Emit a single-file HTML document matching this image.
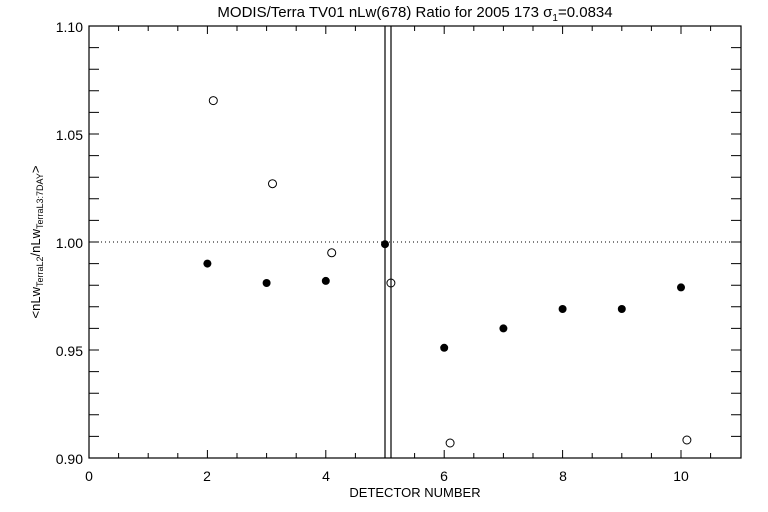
<!DOCTYPE html>
<html><head><style>body{margin:0;background:#fff}svg{display:block}text{font-family:"Liberation Sans",sans-serif;fill:#000}</style></head><body>
<svg width="768" height="512" viewBox="0 0 768 512" xmlns="http://www.w3.org/2000/svg">
<text x="415" y="17" font-size="15" text-anchor="middle">MODIS/Terra TV01 nLw(678) Ratio for 2005 173 σ<tspan font-size="10" dy="4">1</tspan><tspan dy="-4">=0.0834</tspan></text>
<rect x="89" y="26" width="652" height="432" fill="none" stroke="#000" stroke-width="1.2"/>
<path stroke="#000" stroke-width="1" fill="none" d="
M118.6 458v-5M148.2 458v-5M177.8 458v-5M207.4 458v-8M237 458v-5M266.6 458v-5M296.2 458v-5M325.8 458v-8M355.4 458v-5M385 458v-5M414.6 458v-5M444.2 458v-8M473.8 458v-5M503.4 458v-5M533 458v-5M562.6 458v-8M592.2 458v-5M621.8 458v-5M651.4 458v-5M681 458v-8M710.6 458v-5
M118.6 26v5M148.2 26v5M177.8 26v5M207.4 26v8M237 26v5M266.6 26v5M296.2 26v5M325.8 26v8M355.4 26v5M385 26v5M414.6 26v5M444.2 26v8M473.8 26v5M503.4 26v5M533 26v5M562.6 26v8M592.2 26v5M621.8 26v5M651.4 26v5M681 26v8M710.6 26v5
M89 47.6h10M89 69.2h10M89 90.8h10M89 112.4h10M89 134h10M89 155.6h10M89 177.2h10M89 198.8h10M89 220.4h10M89 242h10M89 263.6h10M89 285.2h10M89 306.8h10M89 328.4h10M89 350h10M89 371.6h10M89 393.2h10M89 414.8h10M89 436.4h10
M741 47.6h-10M741 69.2h-10M741 90.8h-10M741 112.4h-10M741 134h-10M741 155.6h-10M741 177.2h-10M741 198.8h-10M741 220.4h-10M741 242h-10M741 263.6h-10M741 285.2h-10M741 306.8h-10M741 328.4h-10M741 350h-10M741 371.6h-10M741 393.2h-10M741 414.8h-10M741 436.4h-10"/>
<line x1="89" y1="242" x2="741" y2="242" stroke="#000" stroke-dasharray="1,3"/>
<line x1="385" y1="26" x2="385" y2="458" stroke="#000" stroke-width="1.2"/>
<line x1="391" y1="26" x2="391" y2="458" stroke="#000" stroke-width="1.2"/>
<g font-size="14" text-anchor="end">
<text x="83" y="32">1.10</text><text x="83" y="140">1.05</text><text x="83" y="248">1.00</text><text x="83" y="356">0.95</text><text x="83" y="464">0.90</text>
</g>
<g font-size="14" text-anchor="middle">
<text x="89" y="481">0</text><text x="207" y="481">2</text><text x="326" y="481">4</text><text x="444" y="481">6</text><text x="563" y="481">8</text><text x="681" y="481">10</text>
<text x="415" y="497" font-size="13">DETECTOR NUMBER</text>
</g>
<text transform="translate(40,242) rotate(-90)" font-size="13" text-anchor="middle">&lt;nLw<tspan font-size="9" dy="3">TerraL2</tspan><tspan dy="-3">/nLw</tspan><tspan font-size="9" dy="3">TerraL3:7DAY</tspan><tspan dy="-3">&gt;</tspan></text>
<g fill="#000">
<circle cx="207.4" cy="263.6" r="4"/><circle cx="266.6" cy="283" r="4"/><circle cx="325.8" cy="280.9" r="4"/><circle cx="385" cy="244.2" r="4"/><circle cx="444.2" cy="347.8" r="4"/><circle cx="503.4" cy="328.4" r="4"/><circle cx="562.6" cy="309" r="4"/><circle cx="621.8" cy="309" r="4"/><circle cx="681" cy="287.4" r="4"/>
</g>
<g fill="none" stroke="#000">
<circle cx="213.3" cy="100.6" r="4"/><circle cx="272.5" cy="183.7" r="4"/><circle cx="331.7" cy="252.8" r="4"/><circle cx="390.9" cy="283" r="4"/><circle cx="450.1" cy="443" r="4"/><circle cx="686.9" cy="440" r="4"/>
</g>
</svg>
</body></html>
